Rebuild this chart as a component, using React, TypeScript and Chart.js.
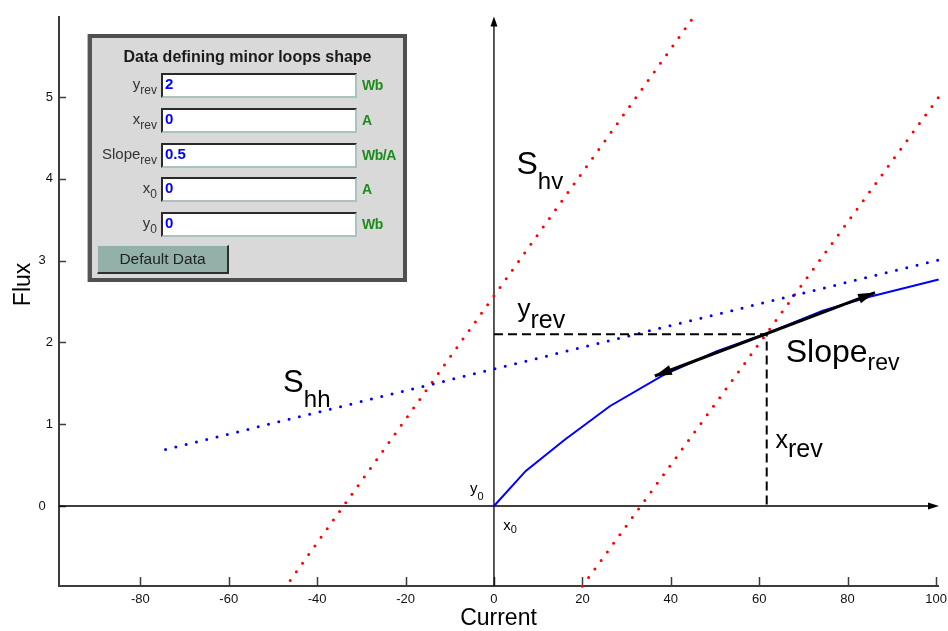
import React, { useEffect, useRef } from "react";
import { Chart, registerables } from "chart.js";

Chart.register(...registerables);

// ---- data ----
const curveX = [0, 7.2, 16.0, 26.2, 38.3, 50.3, 61.7, 74.4, 85.0, 100.6];
const curveY = [0, 0.43, 0.81, 1.22, 1.6, 1.89, 2.11, 2.39, 2.56, 2.77];
const shhX = [-74.3, 100.6];
const shhY = [0.69, 3.01];
const shvUpperX = [-46.1, 45.7];
const shvUpperY = [-0.91, 6.02];
const shvLowerX = [20.0, 100.6];
const shvLowerY = [-0.98, 5.0];
const slopeX = [36.4, 86.2];
const slopeY = [1.59, 2.61];
const xRev = 61.7;
const yRev = 2.1;
const xTickValues = [-80, -60, -40, -20, 0, 20, 40, 60, 80, 100];
const yTickValues = [0, 1, 2, 3, 4, 5];
const xRange = [-98.4, 100.45];
const yRange = [-0.978, 5.98];

// panel contents
const fieldMain = ["y", "x", "Slope", "x", "y"];
const fieldSub = ["rev", "rev", "rev", "0", "0"];
const fieldValues = ["2", "0", "0.5", "0", "0"];
const fieldUnits = ["Wb", "A", "Wb/A", "A", "Wb"];

const FONT = '"Liberation Sans", Arial, sans-serif';

const pts = (xs: number[], ys: number[]) => xs.map((x, i) => ({ x, y: ys[i] }));

type Ann = { main: string; sub: string; x: number; y: number; mainSize: number; subSize: number; subDy: number };
const annotations: Ann[] = [
  { main: "S", sub: "hv", x: 5.1, y: 4.055, mainSize: 32, subSize: 24, subDy: 15 },
  { main: "S", sub: "hh", x: -47.7, y: 1.397, mainSize: 31, subSize: 24, subDy: 15 },
  { main: "y", sub: "rev", x: 5.3, y: 2.313, mainSize: 26, subSize: 25, subDy: 11.5 },
  { main: "Slope", sub: "rev", x: 66.0, y: 1.757, mainSize: 32, subSize: 23, subDy: 7.7 },
  { main: "x", sub: "rev", x: 63.7, y: 0.705, mainSize: 25, subSize: 25, subDy: 8.4 },
  { main: "y", sub: "0", x: -5.43, y: 0.161, mainSize: 15, subSize: 11, subDy: 7 },
  { main: "x", sub: "0", x: 2.1, y: -0.293, mainSize: 15, subSize: 11, subDy: 3.3 },
];

function arrowHead(ctx: CanvasRenderingContext2D, tx: number, ty: number, fx: number, fy: number, len: number, half: number) {
  const dx = tx - fx, dy = ty - fy;
  const d = Math.hypot(dx, dy) || 1;
  const ux = dx / d, uy = dy / d;
  const bx = tx - ux * len, by = ty - uy * len;
  ctx.beginPath();
  ctx.moveTo(tx, ty);
  ctx.lineTo(bx - uy * half, by + ux * half);
  ctx.lineTo(bx + uy * half, by - ux * half);
  ctx.closePath();
  ctx.fill();
}

const overlayPlugin = {
  id: "overlayPlugin",
  beforeDatasetsDraw(chart: any) {
    const { ctx, chartArea: a, scales } = chart;
    const xs = scales.x, ys = scales.y;
    const x0 = xs.getPixelForValue(0);
    const y0 = ys.getPixelForValue(0);
    ctx.save();
    // inward tick marks
    ctx.strokeStyle = "#3c3c3c";
    ctx.lineWidth = 1.5;
    ctx.beginPath();
    xs.ticks.forEach((t: any) => {
      const px = Math.round(xs.getPixelForValue(t.value)) + 0.5;
      ctx.moveTo(px, a.bottom);
      ctx.lineTo(px, a.bottom - 9);
    });
    ys.ticks.forEach((t: any) => {
      const py = Math.round(ys.getPixelForValue(t.value)) + 0.5;
      ctx.moveTo(a.left, py);
      ctx.lineTo(a.left + 7, py);
    });
    ctx.stroke();
    // central axes with arrows
    ctx.strokeStyle = "#000";
    ctx.fillStyle = "#000";
    ctx.lineWidth = 1.3;
    ctx.beginPath();
    ctx.moveTo(x0, a.bottom);
    ctx.lineTo(x0, a.top + 8);
    ctx.moveTo(a.left, y0);
    ctx.lineTo(a.right - 8, y0);
    ctx.stroke();
    arrowHead(ctx, x0, a.top - 0.5, x0, a.top + 20, 10, 3.5);
    arrowHead(ctx, a.right + 1, y0, a.right - 20, y0, 11, 3.5);
    ctx.restore();
  },
  afterDatasetsDraw(chart: any) {
    const { ctx, chartArea: a, scales } = chart;
    const xs = scales.x, ys = scales.y;
    ctx.save();
    // slope arrow heads
    ctx.fillStyle = "#000";
    const p1x = xs.getPixelForValue(slopeX[0]), p1y = ys.getPixelForValue(slopeY[0]);
    const p2x = xs.getPixelForValue(slopeX[1]), p2y = ys.getPixelForValue(slopeY[1]);
    arrowHead(ctx, p1x, p1y, p2x, p2y, 17, 5);
    arrowHead(ctx, p2x, p2y, p1x, p1y, 17, 5);
    // annotation texts
    ctx.fillStyle = "#000";
    ctx.textBaseline = "alphabetic";
    ctx.textAlign = "left";
    annotations.forEach((n) => {
      const px = xs.getPixelForValue(n.x);
      const py = ys.getPixelForValue(n.y);
      ctx.font = `${n.mainSize}px ${FONT}`;
      ctx.fillText(n.main, px, py);
      const w = ctx.measureText(n.main).width;
      ctx.font = `${n.subSize}px ${FONT}`;
      ctx.fillText(n.sub, px + w, py + n.subDy);
    });
    // y axis title
    ctx.save();
    ctx.translate(a.left - 35, ys.getPixelForValue(2.71));
    ctx.rotate(-Math.PI / 2);
    ctx.textAlign = "center";
    ctx.textBaseline = "middle";
    ctx.font = `23px ${FONT}`;
    ctx.fillText("Flux", 0, 0);
    ctx.restore();
    ctx.restore();
  },
};

function Panel() {
  const rowTop = (i: number) => 35 + i * 34.8;
  return (
    <div
      style={{
        position: "absolute",
        left: 88,
        top: 34,
        width: 319,
        height: 248,
        boxSizing: "border-box",
        border: "4px solid #4f4f4f",
        borderLeft: "4px solid #555",
        background: "#d9d9d9",
        fontFamily: FONT,
        boxShadow: "-1px 0 0 #b8b8b8",
      }}
    >
      <div
        style={{
          position: "absolute",
          left: 0,
          width: 311,
          top: 10.5,
          textAlign: "center",
          fontWeight: "bold",
          fontSize: 16,
          lineHeight: "16px",
          color: "#1a1a1a",
          whiteSpace: "nowrap",
        }}
      >
        Data defining minor loops shape
      </div>
      {fieldMain.map((m, i) => (
        <React.Fragment key={i}>
          <div
            style={{
              position: "absolute",
              right: 246,
              top: rowTop(i) + 2,
              fontSize: 15,
              lineHeight: "17px",
              color: "#333",
              whiteSpace: "nowrap",
            }}
          >
            {m}
            <sub style={{ fontSize: 12, verticalAlign: "-5px", lineHeight: "12px" }}>{fieldSub[i]}</sub>
          </div>
          <div
            style={{
              position: "absolute",
              left: 69,
              top: rowTop(i),
              width: 196,
              height: 25,
              boxSizing: "border-box",
              background: "#fff",
              borderTop: "2px solid #2a2a2a",
              borderLeft: "2px solid #2a2a2a",
              borderRight: "2px solid #a9c4bd",
              borderBottom: "2px solid #a9c4bd",
              color: "#0000ff",
              fontWeight: "bold",
              fontSize: 15,
              lineHeight: "15px",
              paddingLeft: 2,
              paddingTop: 1,
            }}
          >
            {fieldValues[i]}
          </div>
          <div
            style={{
              position: "absolute",
              left: 270,
              top: rowTop(i) + 5,
              color: "#1c8c1c",
              fontWeight: "bold",
              fontSize: 14,
              lineHeight: "15px",
              letterSpacing: "-0.5px",
              whiteSpace: "nowrap",
            }}
          >
            {fieldUnits[i]}
          </div>
        </React.Fragment>
      ))}
      <div
        style={{
          position: "absolute",
          left: 5,
          top: 207,
          width: 132,
          height: 29,
          boxSizing: "border-box",
          background: "#93b1a9",
          borderTop: "1px solid #c9ddd7",
          borderLeft: "1px solid #c9ddd7",
          borderRight: "2px solid #2f2f2f",
          borderBottom: "2px solid #2f2f2f",
          fontSize: 15.5,
          lineHeight: "25px",
          textAlign: "center",
          color: "#222",
        }}
      >
        Default Data
      </div>
    </div>
  );
}

export default function App() {
  const canvasRef = useRef<HTMLCanvasElement | null>(null);

  useEffect(() => {
    if (!canvasRef.current) return;
    Chart.defaults.font.family = FONT;
    const dotted = (color: string) => ({
      borderColor: color,
      backgroundColor: color,
      borderWidth: 3,
      borderDash: [0, 10.6],
      borderCapStyle: "round" as const,
      pointRadius: 0,
      showLine: true,
      fill: false,
      clip: 8,
    });
    const chart = new Chart(canvasRef.current, {
      type: "scatter",
      data: {
        datasets: [
          {
            label: "Slope_rev",
            data: pts(slopeX, slopeY),
            borderColor: "#000",
            borderWidth: 3,
            pointRadius: 0,
            showLine: true,
            order: 0,
          },
          {
            label: "reversal",
            data: [
              { x: 0, y: yRev },
              { x: xRev, y: yRev },
              { x: xRev, y: 0 },
            ],
            borderColor: "#000",
            borderWidth: 2,
            borderDash: [9, 5],
            pointRadius: 0,
            showLine: true,
            order: 1,
          },
          {
            label: "Flux curve",
            data: pts(curveX, curveY),
            borderColor: "#0000ff",
            borderWidth: 2,
            pointRadius: 0,
            showLine: true,
            clip: 4,
            order: 2,
          },
          { label: "S_hh", data: pts(shhX, shhY), ...dotted("#0000ff"), order: 3 },
          { label: "S_hv upper", data: pts(shvUpperX, shvUpperY), ...dotted("#ff0000"), order: 3 },
          { label: "S_hv lower", data: pts(shvLowerX, shvLowerY), ...dotted("#ff0000"), order: 3 },
        ],
      },
      options: {
        animation: false,
        responsive: false,
        devicePixelRatio: 1,
        layout: { padding: { left: 0, top: 17, right: 10, bottom: 0 } },
        plugins: { legend: { display: false }, tooltip: { enabled: false } },
        scales: {
          x: {
            type: "linear",
            min: xRange[0],
            max: xRange[1],
            afterBuildTicks: (s: any) => {
              s.ticks = xTickValues.map((v) => ({ value: v }));
            },
            afterFit: (s: any) => {
              s.height = 45;
              s.paddingLeft = 0;
              s.paddingRight = 0;
            },
            grid: { display: false, drawTicks: false },
            border: { display: true, color: "#3c3c3c", width: 2 },
            ticks: { color: "#111", font: { size: 13, family: FONT }, padding: 6, maxRotation: 0, autoSkip: false },
            title: { display: true, text: "Current", color: "#000", font: { size: 23, family: FONT }, padding: { top: 0, bottom: -1 } },
          },
          y: {
            type: "linear",
            min: yRange[0],
            max: yRange[1],
            afterBuildTicks: (s: any) => {
              s.ticks = yTickValues.map((v) => ({ value: v }));
            },
            afterFit: (s: any) => {
              s.width = 59;
              s.paddingTop = 0;
              s.paddingBottom = 0;
            },
            grid: { display: false, drawTicks: false },
            border: { display: true, color: "#3c3c3c", width: 2 },
            ticks: {
              color: "#111",
              font: { size: 13, family: FONT },
              padding: 6,
              autoSkip: false,
              callback: (v: any) => (v === 0 || v === 3 ? `${v}  ` : `${v}`),
            },
          },
        },
      },
      plugins: [overlayPlugin],
    } as any);
    return () => chart.destroy();
  }, []);

  return (
    <div style={{ position: "fixed", left: 0, top: 0, width: 948, height: 631, background: "#fff" }}>
      <canvas ref={canvasRef} width={948} height={631} style={{ display: "block" }} />
      <Panel />
    </div>
  );
}
